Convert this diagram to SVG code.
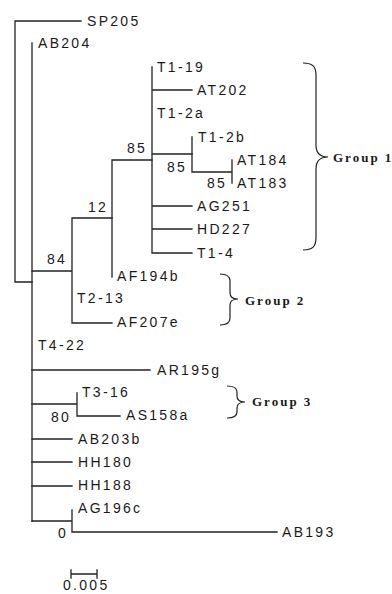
<svg xmlns="http://www.w3.org/2000/svg" width="392" height="594" viewBox="0 0 392 594">
<style>
.e{stroke:#222;stroke-width:1.3;fill:none;stroke-linecap:square}
.t{font-family:"Liberation Sans",Arial,sans-serif;font-size:14px;letter-spacing:2.3px;fill:#1a1a1a}
.g{font-family:"Liberation Serif","Times New Roman",serif;font-size:13px;font-weight:bold;letter-spacing:2px;fill:#1a1a1a}
.b{stroke:#222;stroke-width:1.2;fill:none}
</style>
<rect width="392" height="594" fill="#fff"/>
<g id="connectors">
<path class="e" d="M81,21H15V282H32"/>
<path class="e" d="M32,43V521"/>
<path class="e" d="M32,271H72M72,218V323M72,218H112M72,323H112"/>
<path class="e" d="M112,160V277M112,160H152"/>
<path class="e" d="M152,67V253M152,90H192M152,154H192M152,206H192M152,229H192M152,253H192"/>
<path class="e" d="M192,137V172M192,172H232M232,160V183"/>
<path class="e" d="M32,370H150"/>
<path class="e" d="M32,404H77M77,393V416M77,416H120"/>
<path class="e" d="M32,439H72M32,462H72M32,486H72"/>
<path class="e" d="M32,521H72M72,510V532M72,532H277"/>
</g>
<g id="scale">
<path class="e" d="M71,574H97M71,570V578M97,570V578"/>
<text class="t" x="63" y="590">0.005</text>
</g>
<g id="leaves">
<text class="t" x="87" y="26">SP205</text>
<text class="t" x="38" y="48">AB204</text>
<text class="t" x="157" y="72">T1-19</text>
<text class="t" x="197" y="95">AT202</text>
<text class="t" x="157" y="118">T1-2a</text>
<text class="t" x="198" y="142">T1-2b</text>
<text class="t" x="237" y="165">AT184</text>
<text class="t" x="237" y="188">AT183</text>
<text class="t" x="197" y="211">AG251</text>
<text class="t" x="197" y="234">HD227</text>
<text class="t" x="197" y="258">T1-4</text>
<text class="t" x="117" y="281">AF194b</text>
<text class="t" x="77" y="303">T2-13</text>
<text class="t" x="117" y="327">AF207e</text>
<text class="t" x="38" y="350">T4-22</text>
<text class="t" x="157" y="375">AR195g</text>
<text class="t" x="82" y="397">T3-16</text>
<text class="t" x="126" y="420">AS158a</text>
<text class="t" x="78" y="444">AB203b</text>
<text class="t" x="78" y="467">HH180</text>
<text class="t" x="78" y="490">HH188</text>
<text class="t" x="78" y="513">AG196c</text>
<text class="t" x="282" y="537">AB193</text>
</g>
<g id="support">
<text class="t" x="127" y="153">85</text>
<text class="t" x="167" y="172">85</text>
<text class="t" x="207" y="188">85</text>
<text class="t" x="88" y="212">12</text>
<text class="t" x="47" y="264">84</text>
<text class="t" x="51" y="422">80</text>
<text class="t" x="58" y="538">0</text>
</g>
<g id="group1">
<path class="b" d="M303,63C312,63 316,66 316,75V145C316,153 320,157 328,157C320,157 316,161 316,169V238C316,247 312,250 303,250"/>
<text class="g" x="333" y="162">Group 1</text>
</g>
<g id="group2">
<path class="b" d="M220,274C227,274 230,276 230,281V293C230,297 233,299 238,299C233,299 230,301 230,305V318C230,323 227,325 220,325"/>
<text class="g" x="245" y="305">Group 2</text>
</g>
<g id="group3">
<path class="b" d="M227,386C234,386 237,388 237,392V396C237,400 240,402 245,402C240,402 237,404 237,408V412C237,416 234,418 227,418"/>
<text class="g" x="252" y="406">Group 3</text>
</g>
</svg>
